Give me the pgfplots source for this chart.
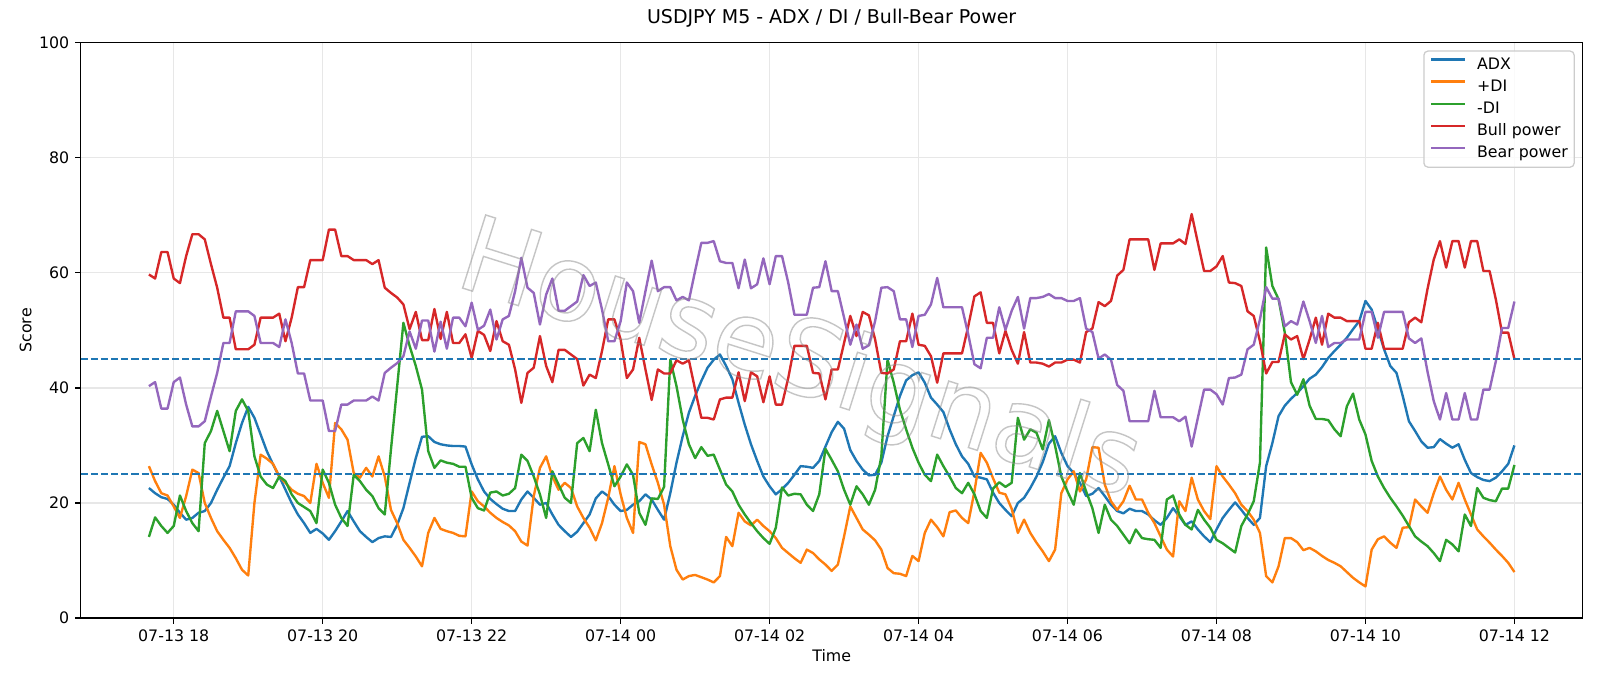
\documentclass[border=0pt]{standalone}
\usepackage{fontspec}
\setmainfont{DejaVu Sans}
\usepackage{pgfplots}
\usepackage{pgfplotstable}
\pgfplotsset{compat=1.18}

\definecolor{cADX}{HTML}{1F77B4}
\definecolor{cPDI}{HTML}{FF7F0E}
\definecolor{cMDI}{HTML}{2CA02C}
\definecolor{cBull}{HTML}{D62728}
\definecolor{cBear}{HTML}{9467BD}
\definecolor{gridgray}{HTML}{E7E7E7}
\definecolor{legendedge}{HTML}{CCCCCC}

% 5-minute bars from 07-13 17:40 (bar 0) to 07-14 12:00 (bar 220)
\pgfplotstableread{
idx adx pdi mdi bull bear
0 22.6 26.4 14.1 59.7 40.3
1 21.7 23.8 17.5 59.0 41.0
2 21.0 21.7 16.0 63.6 36.4
3 20.7 21.3 14.8 63.6 36.4
4 19.7 19.4 16.0 59.0 41.0
5 18.3 17.4 21.3 58.2 41.8
6 17.1 21.2 18.6 62.9 37.1
7 17.4 25.8 16.5 66.7 33.3
8 18.3 25.2 15.1 66.7 33.3
9 18.6 20.0 30.4 65.8 34.2
10 20.0 17.4 32.5 61.5 38.5
11 22.3 15.1 36.0 57.4 42.6
12 24.4 13.6 32.5 52.2 47.8
13 26.4 12.2 29.0 52.2 47.8
14 30.4 10.4 36.0 46.7 53.3
15 33.9 8.4 38.0 46.7 53.3
16 36.7 7.4 36.0 46.7 53.3
17 34.8 20.0 28.1 47.5 52.5
18 31.9 28.4 24.6 52.2 47.8
19 29.0 27.7 23.2 52.2 47.8
20 26.7 26.8 22.6 52.2 47.8
21 24.6 24.6 24.6 52.9 47.1
22 22.3 23.5 23.8 48.1 51.9
23 20.0 22.3 21.5 52.2 47.8
24 18.0 21.6 20.0 57.5 42.5
25 16.5 21.2 19.3 57.5 42.5
26 14.8 20.0 18.6 62.2 37.8
27 15.5 26.8 16.5 62.2 37.8
28 14.7 23.5 25.8 62.2 37.8
29 13.6 20.9 23.5 67.5 32.5
30 15.1 33.9 19.7 67.5 32.5
31 16.8 32.8 17.4 62.9 37.1
32 18.6 31.0 16.0 62.9 37.1
33 16.8 25.2 24.9 62.2 37.8
34 15.1 24.4 23.8 62.2 37.8
35 14.1 26.1 22.3 62.2 37.8
36 13.2 24.6 21.2 61.5 38.5
37 13.9 28.1 19.1 62.2 37.8
38 14.2 24.6 18.0 57.4 42.6
39 14.1 18.8 29.3 56.5 43.5
40 16.2 16.5 40.3 55.7 44.3
41 19.1 13.6 51.3 54.5 45.5
42 23.5 12.2 47.3 50.2 49.8
43 27.8 10.7 43.8 53.2 46.8
44 31.5 9.0 39.7 48.3 51.7
45 31.6 14.8 29.0 48.3 51.7
46 30.6 17.4 26.1 53.7 46.3
47 30.2 15.5 27.4 48.5 51.5
48 30.0 15.1 27.0 53.2 46.8
49 29.9 14.8 26.8 47.8 52.2
50 29.9 14.3 26.3 47.8 52.2
51 29.8 14.2 26.3 49.3 50.7
52 26.7 22.0 20.9 45.2 54.8
53 24.1 20.3 19.1 49.9 50.1
54 22.0 19.4 18.7 49.2 50.8
55 20.7 18.3 21.8 46.4 53.6
56 19.8 17.4 22.0 51.6 48.4
57 19.0 16.7 21.3 48.1 51.9
58 18.6 16.1 21.6 47.5 52.5
59 18.6 15.1 22.6 43.2 56.8
60 20.6 13.3 28.4 37.4 62.6
61 22.0 12.6 27.3 42.6 57.4
62 20.9 21.2 24.6 43.5 56.5
63 19.7 26.1 21.5 49.0 51.0
64 20.0 28.1 17.4 43.8 56.2
65 18.0 24.6 25.5 41.0 59.0
66 16.2 22.3 23.2 46.6 53.4
67 15.1 23.5 20.9 46.6 53.4
68 14.1 22.6 20.0 45.8 54.2
69 15.0 19.4 30.4 45.0 55.0
70 16.5 17.4 31.3 40.4 59.6
71 18.0 15.7 29.0 42.3 57.7
72 20.8 13.5 36.2 41.7 58.3
73 22.0 16.5 30.4 46.4 53.6
74 21.2 20.9 26.7 51.9 48.1
75 19.7 26.4 22.9 51.9 48.1
76 18.6 21.5 24.6 48.4 51.6
77 18.8 17.4 26.7 41.7 58.3
78 19.7 14.8 24.9 43.2 56.8
79 20.3 30.6 18.3 48.7 51.3
80 21.5 30.2 16.2 43.2 56.8
81 20.6 26.7 20.8 37.9 62.1
82 18.8 23.5 20.7 43.2 56.8
83 17.1 19.7 22.8 42.5 57.5
84 21.7 12.5 44.9 42.5 57.5
85 27.0 8.4 40.3 44.8 55.2
86 31.6 6.7 34.5 44.2 55.8
87 35.7 7.3 30.2 44.8 55.2
88 38.6 7.5 27.8 39.7 60.3
89 41.2 7.1 29.7 34.8 65.2
90 43.5 6.7 28.2 34.8 65.2
91 44.9 6.2 28.4 34.5 65.5
92 45.8 7.3 25.8 38.0 62.0
93 43.8 14.1 23.2 38.3 61.7
94 41.5 12.5 22.0 38.3 61.7
95 37.4 18.3 19.7 42.7 57.3
96 33.6 16.8 18.0 37.7 62.3
97 30.2 16.1 16.5 42.7 57.3
98 27.3 17.1 15.1 42.0 58.0
99 24.6 16.0 13.9 37.5 62.5
100 22.9 15.1 12.9 42.0 58.0
101 21.5 13.9 15.7 37.1 62.9
102 22.4 12.2 22.7 37.1 62.9
103 23.5 11.3 21.3 41.7 58.3
104 24.9 10.4 21.6 47.3 52.7
105 26.4 9.6 21.5 47.3 52.7
106 26.3 11.9 19.7 47.3 52.7
107 26.1 11.3 18.6 42.6 57.4
108 27.3 10.2 21.5 42.5 57.5
109 29.8 9.3 29.4 38.0 62.0
110 32.3 8.2 27.5 43.2 56.8
111 34.1 9.3 25.5 43.2 56.8
112 32.9 14.2 22.3 47.8 52.2
113 29.2 19.4 19.7 52.5 47.5
114 27.3 17.4 22.9 49.0 51.0
115 25.8 15.4 21.5 53.2 46.8
116 24.8 14.5 19.7 52.6 47.4
117 24.9 13.5 22.3 48.4 51.6
118 27.0 11.9 28.1 42.6 57.4
119 31.6 8.7 44.9 42.5 57.5
120 35.1 7.8 40.9 43.2 56.8
121 38.6 7.7 36.2 48.1 51.9
122 41.3 7.3 32.8 48.1 51.9
123 42.2 10.8 29.6 52.9 47.1
124 42.7 9.9 27.0 47.5 52.5
125 40.9 14.8 24.9 47.3 52.7
126 38.3 17.1 23.8 45.5 54.5
127 37.1 15.8 28.4 40.9 59.1
128 35.8 14.2 26.4 46.0 54.0
129 32.8 18.4 24.6 46.0 54.0
130 30.2 18.7 22.6 46.0 54.0
131 28.1 17.4 21.7 46.0 54.0
132 26.8 16.5 23.5 50.7 49.3
133 24.6 22.0 21.5 55.9 44.1
134 24.4 28.7 18.6 56.6 43.4
135 24.1 27.0 17.4 51.3 48.7
136 21.8 24.3 22.5 51.3 48.7
137 20.0 21.8 23.6 46.0 54.0
138 18.8 21.5 22.8 49.9 50.1
139 17.7 19.0 23.5 46.6 53.4
140 20.0 14.8 34.8 44.2 55.8
141 20.9 17.1 31.0 49.7 50.3
142 22.6 14.8 32.8 44.4 55.6
143 24.6 13.1 32.2 44.4 55.6
144 27.1 11.6 29.3 44.2 55.8
145 30.3 9.9 34.4 43.7 56.3
146 31.6 11.9 29.9 44.4 55.6
147 28.7 21.7 24.6 44.4 55.6
148 26.4 24.1 22.0 44.9 55.1
149 25.2 25.5 19.7 44.9 55.1
150 23.5 22.0 25.2 44.4 55.6
151 21.2 24.1 22.0 49.7 50.3
152 21.6 29.7 19.1 50.3 49.7
153 22.6 29.6 14.8 54.9 45.1
154 21.2 23.2 19.7 54.2 45.8
155 19.7 20.3 17.1 55.1 44.9
156 18.6 18.8 16.0 59.5 40.5
157 18.2 20.3 14.5 60.5 39.5
158 19.0 23.0 13.0 65.8 34.2
159 18.6 20.6 15.4 65.8 34.2
160 18.6 20.6 13.9 65.8 34.2
161 18.0 18.3 13.7 65.8 34.2
162 17.0 16.5 13.6 60.5 39.5
163 16.2 14.2 12.2 65.1 34.9
164 17.4 11.9 20.6 65.1 34.9
165 19.1 10.7 21.3 65.1 34.9
166 17.7 20.3 18.0 65.8 34.2
167 16.2 18.6 16.2 65.0 35.0
168 16.8 24.4 15.4 70.2 29.8
169 15.4 20.6 18.8 65.2 34.8
170 14.2 18.6 17.1 60.3 39.7
171 13.2 17.2 15.7 60.3 39.7
172 15.4 26.4 13.6 61.1 38.9
173 17.4 24.6 13.0 62.9 37.1
174 18.8 23.2 12.2 58.3 41.7
175 20.1 21.7 11.4 58.2 41.8
176 18.8 19.7 16.0 57.7 42.3
177 17.4 18.6 18.0 53.3 46.7
178 16.2 17.1 20.3 52.5 47.5
179 17.4 14.8 27.0 48.1 51.9
180 26.4 7.3 64.4 42.5 57.5
181 30.4 6.2 57.7 44.5 55.5
182 35.1 9.0 55.4 44.5 55.5
183 36.9 13.9 49.6 49.3 50.7
184 38.1 13.9 41.0 48.4 51.6
185 39.1 13.2 38.8 49.0 51.0
186 40.3 11.8 41.5 45.0 55.0
187 41.6 12.2 36.9 48.4 51.6
188 42.3 11.6 34.6 52.2 47.8
189 43.6 10.8 34.6 47.5 52.5
190 45.2 10.1 34.4 52.9 47.1
191 46.4 9.6 32.8 52.2 47.8
192 47.5 9.0 31.6 52.2 47.8
193 48.7 8.0 36.8 51.6 48.4
194 50.2 7.0 39.0 51.6 48.4
195 51.6 6.2 34.5 51.6 48.4
196 55.1 5.5 31.9 46.8 53.2
197 53.6 11.9 27.3 46.8 53.2
198 50.2 13.7 24.6 51.3 48.7
199 46.7 14.2 22.6 46.8 53.2
200 43.8 13.1 20.9 46.8 53.2
201 42.6 12.2 19.4 46.8 53.2
202 38.6 15.7 17.8 46.8 53.2
203 34.2 15.8 16.0 51.4 48.6
204 32.5 20.6 14.2 52.2 47.8
205 30.7 19.4 13.3 51.4 48.6
206 29.6 18.3 12.5 57.2 42.8
207 29.7 21.7 11.3 62.3 37.7
208 31.1 24.6 9.9 65.5 34.5
209 30.3 22.3 13.6 60.9 39.1
210 29.6 20.6 12.8 65.5 34.5
211 30.2 23.5 11.6 65.5 34.5
212 27.5 20.6 18.0 60.9 39.1
213 25.2 18.0 16.0 65.5 34.5
214 24.5 15.4 22.6 65.5 34.5
215 24.0 14.2 20.9 60.3 39.7
216 23.8 13.1 20.5 60.3 39.7
217 24.4 11.9 20.3 55.4 44.6
218 25.5 10.8 22.5 49.6 50.4
219 26.8 9.6 22.5 49.6 50.4
220 30.0 8.0 26.6 45.0 55.0
}\ind

\begin{document}
\begin{tikzpicture}
\useasboundingbox (-50.8bp,-42.6bp) rectangle (957.2bp,389.4bp);
\begin{axis}[
  at={(0,0)}, anchor=south west,
  width=946.3bp, height=362.6bp, scale only axis,
  xmin=-11, xmax=231, ymin=0, ymax=100,
  xtick={4,28,52,76,100,124,148,172,196,220},
  xticklabels={07-13 18,07-13 20,07-13 22,07-14 00,07-14 02,07-14 04,07-14 06,07-14 08,07-14 10,07-14 12},
  ytick={0,20,40,60,80,100},
  /pgf/number format/assume math mode=true,
  tick pos=left, tick align=outside,
  major tick length=3.5bp,
  every tick/.style={black, line width=0.8bp},
  axis line style={black, line width=0.8bp},
  grid=major,
  major grid style={gridgray, line width=0.8bp},
  tick label style={font=\fontsize{10}{12}\selectfont, inner sep=0pt},
  xticklabel style={anchor=north, yshift=-3.5bp},
  yticklabel style={anchor=east, xshift=-3.5bp},
  title={USDJPY M5 - ADX / DI / Bull-Bear Power},
  title style={at={(axis description cs:0.5,1)}, anchor=base, yshift=6bp,
    inner sep=0pt, font=\fontsize{12}{14}\selectfont},
  xlabel={Time},
  xlabel style={at={(axis description cs:0.5,-0.0754)}, anchor=base,
    inner sep=0pt, font=\fontsize{10}{12}\selectfont},
  ylabel={Score},
  ylabel style={at={(axis description cs:-0.0367,0.5)}, anchor=center,
    rotate=0, inner sep=0pt, font=\fontsize{10}{12}\selectfont},
  legend cell align=left,
  legend image code/.code={\draw[#1, line width=1.5bp] (0bp,3.4bp) -- (21bp,3.4bp);},
  legend style={at={(1,1)}, anchor=north east, xshift=-5bp, yshift=-5bp,
    draw=legendedge, line width=0.8bp, rounded corners=2.5bp,
    fill=white, fill opacity=0.8, text opacity=1,
    font=\fontsize{10}{12}\selectfont,
    inner xsep=4bp, inner ysep=4bp, row sep=4.4bp, column sep=7bp,
    nodes={inner sep=0pt, text height=7.5bp, text depth=2bp}},
  every axis plot/.append style={line width=1.5bp, line join=round},
]
\addplot[cADX]  table[x=idx, y=adx]  {\ind};
\addlegendentry{ADX}
\addplot[cPDI]  table[x=idx, y=pdi]  {\ind};
\addlegendentry{+DI}
\addplot[cMDI]  table[x=idx, y=mdi]  {\ind};
\addlegendentry{-DI}
\addplot[cBull] table[x=idx, y=bull] {\ind};
\addlegendentry{Bull power}
\addplot[cBear] table[x=idx, y=bear] {\ind};
\addlegendentry{Bear power}

% threshold levels
\addplot[cADX, line width=1.2bp, dash pattern=on 4.5bp off 1.9bp, forget plot]
  coordinates {(-11,45) (231,45)};
\addplot[cADX, line width=1.2bp, dash pattern=on 4.5bp off 1.9bp, forget plot]
  coordinates {(-11,25) (231,25)};

% watermark
\node[rotate=-17.5, anchor=base, text=black!45, opacity=0.5, line width=0.9bp,
  font=\fontsize{66.5}{70}\selectfont, inner sep=0pt]
  at (axis cs:103.3,39.4)
  {\special{pdf:literal direct 1 Tr}HouseSignals\special{pdf:literal direct 0 Tr}};
\end{axis}
\end{tikzpicture}
\end{document}
